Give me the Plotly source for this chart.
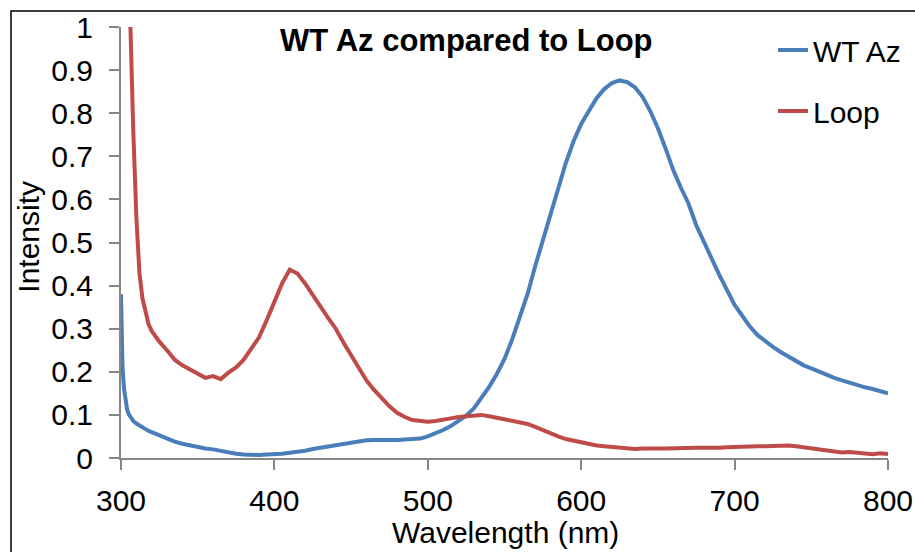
import plotly.graph_objects as go

wavelength = [300, 301, 302, 303, 304, 305, 306, 307, 308, 310, 312, 314, 316, 318,
              320, 325, 330, 335, 340, 345, 350, 355, 360, 365, 370, 375, 380, 385,
              390, 395, 400, 405, 410, 415, 420, 425, 430, 435, 440, 445, 450, 455,
              460, 465, 470, 475, 480, 485, 490, 495, 500, 505, 510, 515, 520, 525,
              530, 535, 540, 545, 550, 555, 560, 565, 570, 575, 580, 585, 590, 595,
              600, 605, 610, 615, 620, 625, 630, 635, 640, 645, 650, 655, 660, 665,
              670, 675, 680, 685, 690, 695, 700, 705, 710, 715, 720, 725, 730, 735,
              740, 745, 750, 755, 760, 765, 770, 775, 780, 785, 790, 795, 800]

wt_az = [0.38, 0.21, 0.16, 0.13, 0.112, 0.102, 0.096, 0.09, 0.086, 0.08, 0.075, 0.071, 0.067, 0.063,
         0.06, 0.053, 0.045, 0.038, 0.033, 0.029, 0.026, 0.022, 0.02, 0.016, 0.013, 0.01, 0.008, 0.007,
         0.007, 0.008, 0.008, 0.01, 0.012, 0.014, 0.017, 0.021, 0.024, 0.027, 0.03, 0.033, 0.036, 0.039,
         0.041, 0.042, 0.043, 0.042, 0.042, 0.043, 0.043, 0.045, 0.05, 0.057, 0.065, 0.074, 0.085, 0.098,
         0.115, 0.14, 0.165, 0.195, 0.23, 0.275, 0.325, 0.38, 0.445, 0.505, 0.57, 0.63, 0.685, 0.735,
         0.775, 0.805, 0.835, 0.856, 0.87, 0.876, 0.872, 0.86, 0.838, 0.805, 0.765, 0.718, 0.668, 0.627,
         0.59, 0.54, 0.5, 0.46, 0.425, 0.39, 0.355, 0.33, 0.305, 0.285, 0.27, 0.258, 0.246, 0.235,
         0.225, 0.215, 0.208, 0.2, 0.193, 0.186, 0.18, 0.174, 0.168, 0.164, 0.16, 0.156, 0.15]

loop = [2.5, 2.1, 1.8, 1.55, 1.33, 1.15, 1.0, 0.87, 0.76, 0.56, 0.43, 0.37, 0.335, 0.31,
        0.295, 0.27, 0.25, 0.228, 0.215, 0.205, 0.196, 0.186, 0.19, 0.183, 0.198, 0.21, 0.228, 0.255,
        0.28, 0.32, 0.36, 0.405, 0.437, 0.428, 0.405, 0.38, 0.352, 0.325, 0.3, 0.268, 0.24, 0.21,
        0.18, 0.158, 0.138, 0.12, 0.105, 0.095, 0.088, 0.085, 0.084, 0.086, 0.088, 0.092, 0.095, 0.097,
        0.099, 0.1, 0.097, 0.093, 0.089, 0.086, 0.083, 0.079, 0.072, 0.064, 0.057, 0.05, 0.044, 0.04,
        0.036, 0.032, 0.029, 0.027, 0.025, 0.023, 0.022, 0.021, 0.022, 0.021, 0.022, 0.022, 0.023, 0.023,
        0.023, 0.024, 0.024, 0.023, 0.024, 0.025, 0.026, 0.026, 0.027, 0.027, 0.027, 0.028, 0.029, 0.029,
        0.027, 0.025, 0.023, 0.021, 0.019, 0.016, 0.013, 0.014, 0.012, 0.01, 0.009, 0.011, 0.009]

y_ticks = [0, 0.1, 0.2, 0.3, 0.4, 0.5, 0.6, 0.7, 0.8, 0.9, 1]
x_ticks = [300, 400, 500, 600, 700, 800]

W, H = 915, 552
L, R, T, B = 121, 27, 27, 94
pw, ph = W - L - R, H - T - B

def px_x(p):
    return (p - L) / pw

def px_y(p):
    return (H - B - p) / ph

FONT = "Liberation Sans, Arial, sans-serif"

fig = go.Figure()
fig.add_trace(go.Scatter(x=wavelength, y=wt_az, mode="lines", name="WT Az",
                         line=dict(color="#4a7ebb", width=4), legendgroup="a"))
fig.add_trace(go.Scatter(x=wavelength, y=loop, mode="lines", name="Loop",
                         line=dict(color="#be4b48", width=4), legendgroup="b"))

fig.update_layout(
    width=W, height=H,
    margin=dict(l=L, r=R, t=T, b=B, autoexpand=False),
    paper_bgcolor="white", plot_bgcolor="white",
    font=dict(family=FONT, size=30, color="black"),
    showlegend=True,
    legend=dict(x=px_x(773), y=px_y(24), xanchor="left", yanchor="top",
                bgcolor="rgba(0,0,0,0)", font=dict(size=30),
                traceorder="grouped", tracegroupgap=19),
    xaxis=dict(range=[300, 800], tickvals=x_ticks, showgrid=False, zeroline=False,
               showline=True, linecolor="#868686", linewidth=2,
               ticks="outside", ticklen=10, tickwidth=2, tickcolor="#868686",
               ticklabelstandoff=5, tickfont=dict(size=30)),
    yaxis=dict(range=[0, 1], tickvals=y_ticks, showgrid=False, zeroline=False,
               showline=True, linecolor="#868686", linewidth=2,
               ticks="outside", ticklen=10, tickwidth=2, tickcolor="#868686",
               ticklabelstandoff=10, tickfont=dict(size=30)),
    shapes=[dict(type="rect", xref="paper", yref="paper",
                 x0=px_x(11), x1=px_x(1000), y0=px_y(700), y1=px_y(11),
                 line=dict(color="black", width=1.5), fillcolor="rgba(0,0,0,0)", layer="below")],
    annotations=[
        dict(text="<b>WT Az compared to Loop</b>", xref="paper", yref="paper",
             x=px_x(466.7), y=px_y(40), xanchor="center", yanchor="middle",
             showarrow=False, font=dict(size=31, color="black")),
        dict(text="Wavelength (nm)", xref="paper", yref="paper",
             x=px_x(505), y=px_y(532), xanchor="center", yanchor="middle",
             showarrow=False, font=dict(size=30, color="black")),
        dict(text="Intensity", xref="paper", yref="paper", textangle=-90,
             x=px_x(27.7), y=px_y(237), xanchor="center", yanchor="middle",
             showarrow=False, font=dict(size=30, color="black")),
    ],
)

fig.write_html("out.html")
